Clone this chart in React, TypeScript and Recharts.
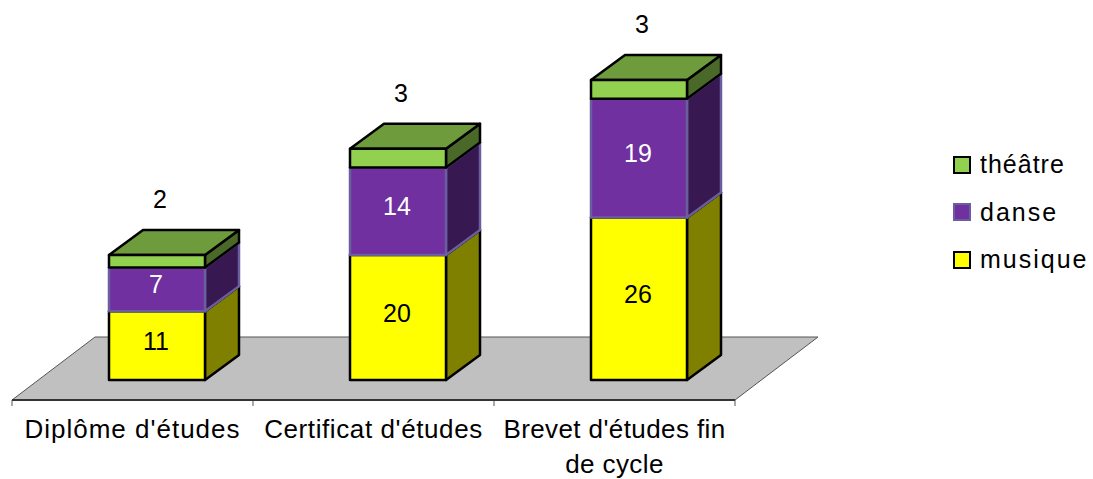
import React from 'react';
import { BarChart, Bar, XAxis, YAxis, Legend, LabelList, Customized, usePlotArea } from 'recharts';

const categories = ["Diplôme d'études", "Certificat d'études", "Brevet d'études fin de cycle"];
const categoryLines = [["Diplôme d'études"], ["Certificat d'études"], ["Brevet d'études fin", 'de cycle']];
const categorySpacing = [1, 0.6, 0.4];
const musique = [11, 20, 26];
const danse = [7, 14, 19];
const theatre = [2, 3, 3];

const data = categories.map((name, i) => ({
    name,
    musique: musique[i],
    danse: danse[i],
    'théâtre': theatre[i],
}));

const FONT = '"Liberation Sans", Arial, sans-serif';

// decalage de la barre par rapport au plancher, et profondeur de la perspective
const SHIFT_X = 24;
const SHIFT_Y = -20;
const DEPTH_X = 34;
const DEPTH_Y = -25;

const makeShape = (front: string, side: string, top: string, stroke: string) => (props: any) => {
    const x = props.x + SHIFT_X;
    const y = props.y + SHIFT_Y;
    const { width: w, height: h } = props;
    return (
        <g strokeLinejoin="round">
            <polygon
                points={`${x + w},${y} ${x + w + DEPTH_X},${y + DEPTH_Y} ${x + w + DEPTH_X},${y + h + DEPTH_Y} ${x + w},${y + h}`}
                fill={side}
                stroke={stroke}
                strokeWidth={2.5}
            />
            <polygon
                points={`${x},${y} ${x + DEPTH_X},${y + DEPTH_Y} ${x + w + DEPTH_X},${y + DEPTH_Y} ${x + w},${y}`}
                fill={top}
                stroke={stroke}
                strokeWidth={2.5}
            />
            <rect x={x} y={y} width={w} height={h} fill={front} stroke={stroke} strokeWidth={2.5} />
        </g>
    );
};

const inLabel = (color: string) => (props: any) => (
    <text
        x={props.x + SHIFT_X + props.width / 2 - 1}
        y={props.y + SHIFT_Y + props.height / 2 - 5}
        textAnchor="middle"
        dominantBaseline="central"
        fontFamily={FONT}
        fontSize={25}
        fill={color}
    >
        {props.value}
    </text>
);

const topLabel = (props: any) => (
    <text
        x={props.x + SHIFT_X + props.width / 2 + 3}
        y={props.y + SHIFT_Y - 56}
        textAnchor="middle"
        dominantBaseline="central"
        fontFamily={FONT}
        fontSize={25}
        fill="#000"
    >
        {props.value}
    </text>
);

// plancher gris et graduations entre les categories
const Floor = () => {
    const plot = usePlotArea();
    if (!plot) return null;
    const left = plot.x;
    const right = plot.x + plot.width;
    const bottom = plot.y + plot.height;
    const step = plot.width / categories.length;
    return (
        <g>
            <polygon
                points={`${left},${bottom} ${left + 83},${bottom - 63} ${right + 83},${bottom - 63} ${right},${bottom}`}
                fill="#c0c0c0"
                stroke="#555"
                strokeWidth={1}
            />
            {[0, 1, 2, 3].map((i) => (
                <line
                    key={i}
                    x1={left + step * i}
                    x2={left + step * i}
                    y1={bottom}
                    y2={bottom + 6}
                    stroke="#555"
                    strokeWidth={1}
                />
            ))}
        </g>
    );
};

const CategoryTick = (props: any) => (
    <text
        x={props.x}
        y={props.y + 30}
        textAnchor="middle"
        fontFamily={FONT}
        fontSize={26}
        letterSpacing={categorySpacing[props.index]}
        fill="#000"
    >
        {categoryLines[props.index].map((line, i) => (
            <tspan key={line} x={props.x} dy={i === 0 ? 0 : 35}>
                {line}
            </tspan>
        ))}
    </text>
);

const legendItems = [
    { label: 'théâtre', fill: '#92d050', stroke: '#000', spacing: 1 },
    { label: 'danse', fill: '#7030a0', stroke: '#6a5e9e', spacing: 2 },
    { label: 'musique', fill: '#ffff00', stroke: '#000', spacing: 2 },
];

const renderLegend = () => (
    <div style={{ fontFamily: FONT, fontSize: 25, color: '#000' }}>
        {legendItems.map((item) => (
            <div key={item.label} style={{ display: 'flex', alignItems: 'center', height: 47.5 }}>
                <span
                    style={{
                        width: 14,
                        height: 14,
                        background: item.fill,
                        border: `2px solid ${item.stroke}`,
                        marginRight: 9,
                    }}
                />
                <span style={{ letterSpacing: item.spacing }}>{item.label}</span>
            </div>
        ))}
    </div>
);

export default function App() {
    return (
        <div style={{ position: 'absolute', left: 0, top: 0, width: 1093, height: 479 }}>
            <BarChart
                width={1093}
                height={479}
                data={data}
                barSize={96}
                margin={{ top: 25, right: 218, bottom: 0, left: 12 }}
            >
                <Customized component={Floor} />
                <XAxis
                    dataKey="name"
                    interval={0}
                    height={79}
                    stroke="#333"
                    strokeWidth={2}
                    tickSize={6}
                    tick={CategoryTick}
                    tickLine={false}
                />
                <YAxis hide domain={[0, 60]} />
                <Legend
                    layout="vertical"
                    align="right"
                    verticalAlign="middle"
                    content={renderLegend}
                    wrapperStyle={{ width: 140, left: 953, top: 141 }}
                />
                <Bar
                    dataKey="musique"
                    stackId="a"
                    isAnimationActive={false}
                    shape={makeShape('#ffff00', '#808000', '#808000', '#000')}
                >
                    <LabelList dataKey="musique" content={inLabel('#000')} />
                </Bar>
                <Bar
                    dataKey="danse"
                    stackId="a"
                    isAnimationActive={false}
                    shape={makeShape('#7030a0', '#381850', '#381850', '#6a5e9e')}
                >
                    <LabelList dataKey="danse" content={inLabel('#fff')} />
                </Bar>
                <Bar
                    dataKey="théâtre"
                    stackId="a"
                    isAnimationActive={false}
                    shape={makeShape('#92d050', '#4a6828', '#6e9c3c', '#000')}
                >
                    <LabelList dataKey="théâtre" content={topLabel} />
                </Bar>
            </BarChart>
        </div>
    );
}
